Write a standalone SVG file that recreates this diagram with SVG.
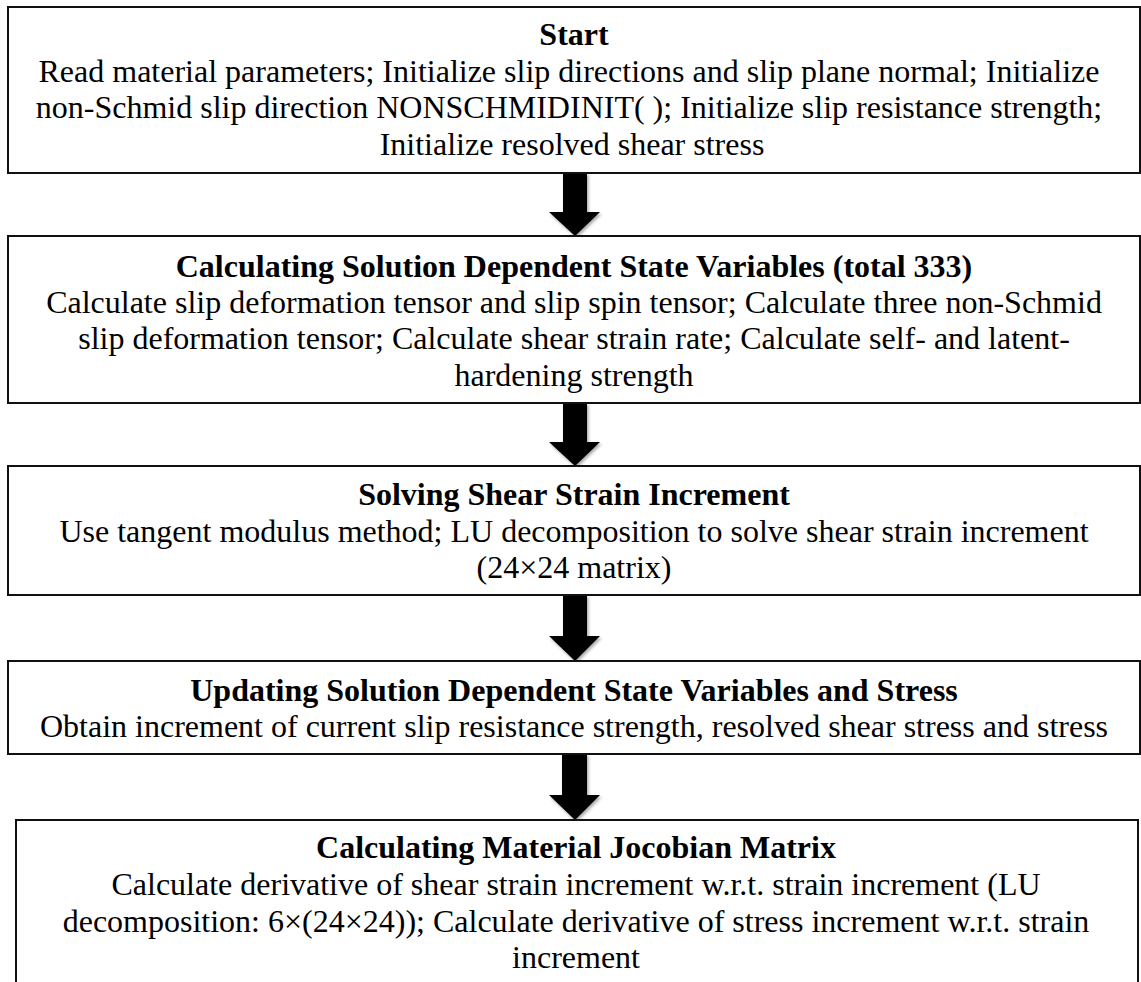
<svg xmlns="http://www.w3.org/2000/svg" width="1141" height="982" viewBox="0 0 1141 982">
<style>
.box{fill:#fff;stroke:#111;stroke-width:2}
.t{font-family:"Liberation Serif","Times New Roman",serif;font-size:32px;fill:#000;text-anchor:middle}
.b{font-weight:bold}
.arr{fill:#000;filter:url(#sh)}
</style>
<defs>
<filter id="sh" x="-30%" y="-30%" width="160%" height="160%">
<feDropShadow dx="1.5" dy="2" stdDeviation="1.5" flood-color="#000" flood-opacity="0.35"/>
</filter>
</defs>
<rect width="1141" height="982" fill="#fff"/>
<g id="connectors">
<path class="arr" d="M563,173 H587 V212 H600 L575,236 L549,212 H563 Z"/>
<path class="arr" d="M563,403 H587 V442 H600 L575,466 L549,442 H563 Z"/>
<path class="arr" d="M563,595 H587 V636 H600 L575,661 L549,636 H563 Z"/>
<path class="arr" d="M562,754 H587 V795 H600 L575,820 L549,795 H562 Z"/>
</g>
<g id="node-start">
<rect class="box" x="8" y="7" width="1132" height="166"/>
<text class="t b" x="574" y="45">Start</text>
<text class="t" x="569" y="82">Read material parameters; Initialize slip directions and slip plane normal; Initialize</text>
<text class="t" x="569" y="118">non-Schmid slip direction NONSCHMIDINIT( ); Initialize slip resistance strength;</text>
<text class="t" x="572" y="155">Initialize resolved shear stress</text>
</g>
<g id="node-sdv">
<rect class="box" x="8" y="236" width="1132" height="167"/>
<text class="t b" x="574" y="277">Calculating Solution Dependent State Variables (total 333)</text>
<text class="t" x="574" y="313">Calculate slip deformation tensor and slip spin tensor;  Calculate three non-Schmid</text>
<text class="t" x="574" y="349">slip deformation tensor; Calculate shear strain rate; Calculate self- and latent-</text>
<text class="t" x="574" y="386">hardening strength</text>
</g>
<g id="node-solve">
<rect class="box" x="8" y="466" width="1132" height="129"/>
<text class="t b" x="574" y="505">Solving Shear Strain Increment</text>
<text class="t" x="574" y="542">Use tangent modulus method; LU decomposition to solve shear strain increment</text>
<text class="t" x="574" y="578">(24×24 matrix)</text>
</g>
<g id="node-update">
<rect class="box" x="8" y="661" width="1132" height="93"/>
<text class="t b" x="574" y="701">Updating Solution Dependent State Variables and Stress</text>
<text class="t" x="574" y="737">Obtain increment of current slip resistance strength, resolved shear stress and stress</text>
</g>
<g id="node-jacobian">
<rect class="box" x="16" y="820" width="1122" height="180"/>
<text class="t b" x="576" y="858">Calculating Material Jocobian Matrix</text>
<text class="t" x="576" y="895">Calculate derivative of shear strain increment w.r.t. strain increment (LU</text>
<text class="t" x="576" y="932">decomposition: 6×(24×24)); Calculate derivative of stress increment w.r.t. strain</text>
<text class="t" x="576" y="968">increment</text>
</g>
</svg>
